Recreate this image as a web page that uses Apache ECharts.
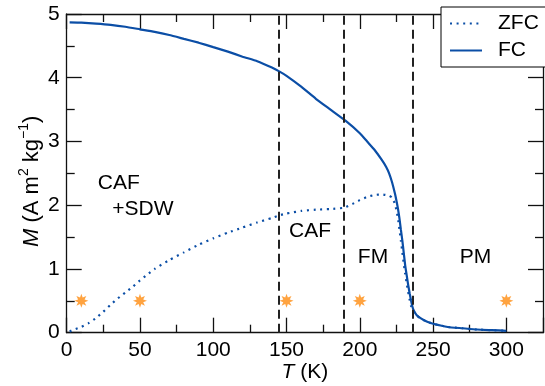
<!DOCTYPE html>
<html>
<head>
<meta charset="utf-8">
<script src="https://cdn.jsdelivr.net/npm/echarts@6/dist/echarts.min.js"></script>
<style>
html,body{margin:0;padding:0;background:#fff;}
#c{width:545px;height:386px;}
</style>
</head>
<body>
<div id="c"></div>
<script>
// ---- data ----
const fcT = [2,10,20,30,40,50,60,70,80,90,100,110,120,130,140,145,150,160,170,180,190,200,205,210,215,218,220,222,224,225,226,227,228,229,230,231,232,233,234,235,236,237,239,242,246,250,260,270,280,290,300];
const fcM = [4.87,4.865,4.85,4.83,4.80,4.76,4.72,4.67,4.61,4.55,4.48,4.41,4.33,4.26,4.16,4.10,4.03,3.86,3.67,3.50,3.33,3.13,3.00,2.87,2.71,2.60,2.50,2.36,2.18,2.07,1.95,1.80,1.62,1.45,1.25,1.05,0.90,0.75,0.62,0.50,0.40,0.34,0.27,0.22,0.17,0.14,0.09,0.07,0.05,0.04,0.03];
const zfcT = [2,5,10,15,20,25,30,35,40,45,50,55,60,70,80,90,100,110,120,130,140,145,150,160,170,180,189,195,200,205,210,215,220,222,224,225,226,227,228,229,230,231,232,233,234,235,236,238,241,245,250,260,270,280,290,300];
const zfcM = [0.02,0.05,0.09,0.15,0.23,0.33,0.44,0.54,0.63,0.72,0.82,0.91,1.00,1.14,1.26,1.38,1.48,1.57,1.65,1.73,1.80,1.84,1.87,1.91,1.93,1.94,1.96,2.02,2.08,2.13,2.16,2.17,2.15,2.12,2.02,1.92,1.80,1.63,1.45,1.27,1.08,0.92,0.77,0.64,0.52,0.42,0.36,0.29,0.23,0.18,0.14,0.09,0.07,0.05,0.04,0.03];
const boundaryT = [145, 189, 236];
const sampleT = [10, 50, 150, 200, 300];
const sampleM = [0.5, 0.5, 0.5, 0.5, 0.5];
const phaseLabels = ['CAF', '+SDW', 'CAF', 'FM', 'PM'];
const phaseT = [35.5, 52, 166, 209, 279];
const phaseM = [2.34, 1.94, 1.6, 1.19, 1.19];
const xTicks = [0, 50, 100, 150, 200, 250, 300];
const yTicks = [0, 1, 2, 3, 4, 5];

// ---- styling ----
const FONT = 'Liberation Sans, Arial, Helvetica, sans-serif';
const BLUE = '#0b4ea6';
const ORANGE = '#ff8c10';

function starPath() {
  const pts = [];
  const n = 8;
  for (let i = 0; i < n * 2; i++) {
    const r = i % 2 === 0 ? 1 : 0.5;
    const a = Math.PI * i / n - Math.PI / 2;
    pts.push((r * Math.cos(a)).toFixed(3) + ' ' + (r * Math.sin(a)).toFixed(3));
  }
  return 'path://M' + pts.join(' L') + ' Z';
}

const chart = echarts.init(document.getElementById('c'), null, {renderer: 'canvas'});

function axis(extra) {
  return Object.assign({
    type: 'value',
    nameMoveOverlap: false,
    axisLine: {show: true, onZero: false, lineStyle: {color: '#111', width: 1.3}},
    axisTick: {show: true, inside: true, length: 15, lineStyle: {color: '#111', width: 1.3}},
    minorTick: {show: true, splitNumber: 2, length: 8, lineStyle: {color: '#111', width: 1.3}},
    splitLine: {show: false},
    minorSplitLine: {show: false}
  }, extra);
}

const option = {
  animation: false,
  backgroundColor: '#fff',
  textStyle: {fontFamily: FONT},
  grid: {left: 66.7, right: 2, top: 14, bottom: 53.3, containLabel: false, outerBoundsMode: 'none'},
  xAxis: [
    axis({
      position: 'bottom', min: 0, max: 325, interval: 50,
      axisLabel: {show: true, fontSize: 21, color: '#000', margin: 7, fontFamily: FONT,
        showMaxLabel: false,
        formatter: v => xTicks.indexOf(v) >= 0 ? String(v) : ''},
      name: '{i|T} (K)', nameLocation: 'middle', nameGap: 29,
      nameTextStyle: {fontSize: 21, color: '#000', fontFamily: FONT,
        rich: {i: {fontStyle: 'italic', fontSize: 21, fontFamily: FONT, color: '#000'}}}
    }),
    axis({
      position: 'top', min: 0, max: 325, interval: 50,
      axisLabel: {show: false}
    })
  ],
  yAxis: [
    axis({
      position: 'left', min: 0, max: 5, interval: 1,
      axisLabel: {show: true, fontSize: 21, color: '#000', margin: 7, fontFamily: FONT,
        formatter: v => yTicks.indexOf(v) >= 0 ? String(v) : ''},
      name: '{i|M} (A m{sup|2} kg{sup|\u22121}){pad| }', nameLocation: 'middle', nameGap: 20, nameRotate: 90,
      nameTextStyle: {fontSize: 22, color: '#000', fontFamily: FONT, lineHeight: 30,
        rich: {
          i: {fontStyle: 'italic', fontSize: 22, fontFamily: FONT, color: '#000', lineHeight: 30},
          sup: {fontSize: 14, fontFamily: FONT, color: '#000', verticalAlign: 'top', lineHeight: 30},
          pad: {width: 16, fontSize: 22, lineHeight: 30}
        }}
    }),
    axis({
      position: 'right', min: 0, max: 5, interval: 1,
      axisLabel: {show: false}
    })
  ],
  legend: {
    orient: 'vertical', left: 441, top: 7,
    padding: [6, 40, 6, 8],
    backgroundColor: '#fff', borderColor: '#000', borderWidth: 1, borderRadius: 0,
    itemWidth: 32, itemHeight: 14, itemGap: 6,
    data: ['ZFC', 'FC'],
    formatter: name => '{p|}' + name,
    textStyle: {fontSize: 21, color: '#000', fontFamily: FONT, lineHeight: 20,
      rich: {p: {width: 11}}}
  },
  series: [
    {
      name: 'ZFC', type: 'line', showSymbol: false, symbol: 'none', smooth: 0.15,
      data: zfcT.map((t, i) => [t, zfcM[i]]),
      lineStyle: {color: BLUE, width: 2.2, type: [2, 4.6], cap: 'butt'},
      itemStyle: {color: 'rgba(0,0,0,0)'}, z: 3
    },
    {
      name: 'FC', type: 'line', showSymbol: false, symbol: 'none', smooth: 0.15,
      data: fcT.map((t, i) => [t, fcM[i]]),
      lineStyle: {color: BLUE, width: 2.2},
      itemStyle: {color: 'rgba(0,0,0,0)'}, z: 3
    },
    {
      name: 'boundaries', type: 'line', data: [], silent: true,
      markLine: {
        silent: true, symbol: 'none', animation: false,
        label: {show: false},
        lineStyle: {color: '#222', width: 2, type: [9, 5]},
        data: boundaryT.map(t => ({xAxis: t}))
      }, z: 2
    },
    {
      name: 'samples', type: 'scatter',
      data: sampleT.map((t, i) => [t, sampleM[i]]),
      symbol: starPath(), symbolSize: 14,
      itemStyle: {color: ORANGE}, z: 4
    },
    {
      name: 'phases', type: 'scatter',
      data: phaseT.map((t, i) => ({value: [t, phaseM[i]], name: phaseLabels[i]})),
      symbolSize: 1, itemStyle: {color: 'rgba(0,0,0,0)'},
      label: {show: true, position: 'inside', formatter: p => p.name, opacity: 1,
        fontSize: 21, color: '#000', fontFamily: FONT, textBorderWidth: 0},
      silent: true, z: 4
    }
  ]
};
chart.setOption(option);
</script>
</body>
</html>
